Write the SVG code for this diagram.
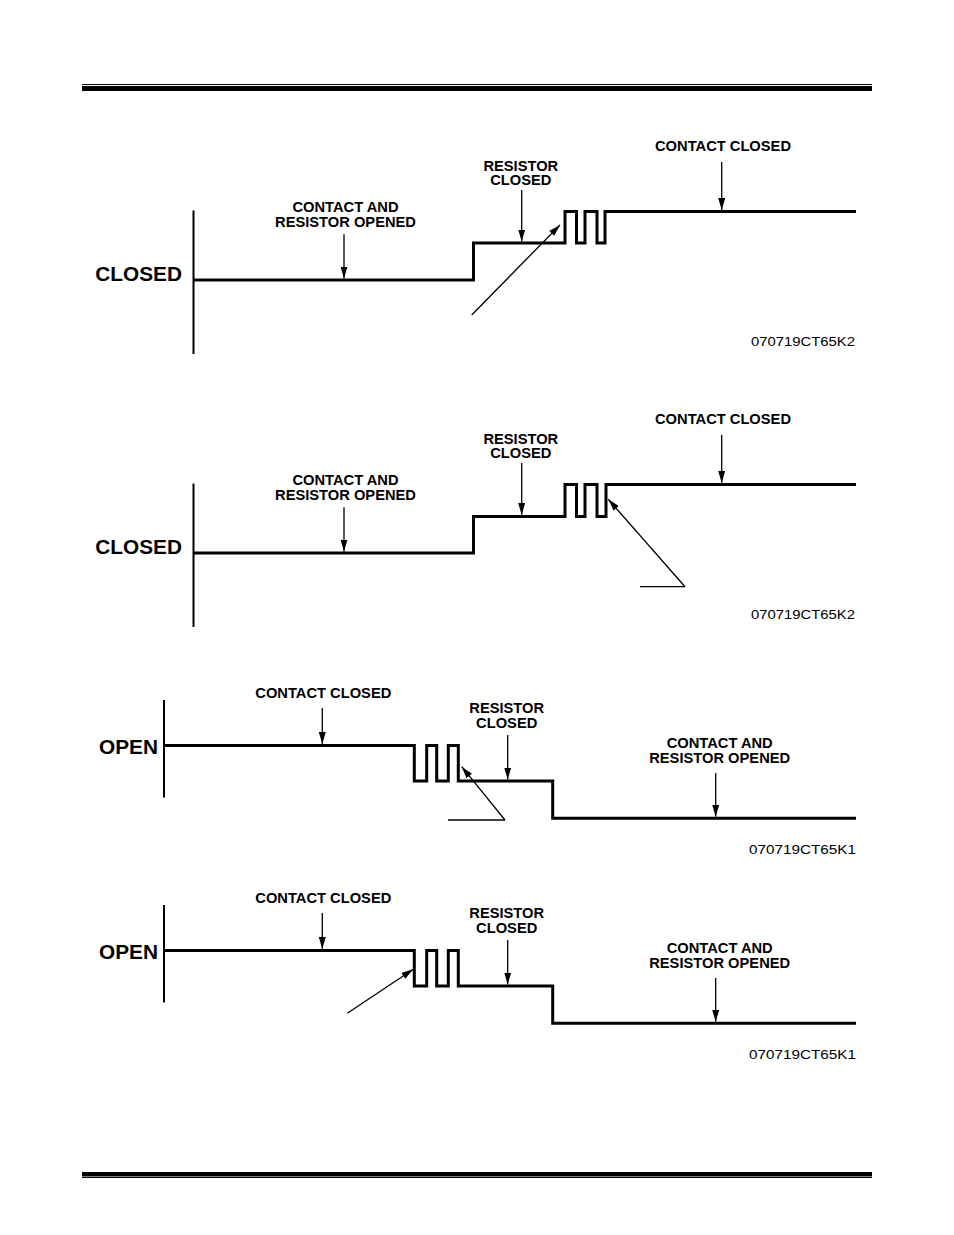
<svg xmlns="http://www.w3.org/2000/svg" width="954" height="1235" viewBox="0 0 954 1235">
<style>
.lbl{font-family:"Liberation Sans",Arial,sans-serif;font-weight:bold;font-size:14.7px;fill:#000;text-anchor:middle}
.big{font-family:"Liberation Sans",Arial,sans-serif;font-weight:bold;font-size:20.8px;fill:#000;text-anchor:end}
.code{font-family:"Liberation Sans",Arial,sans-serif;font-size:12px;fill:#000}
.sig{fill:none;stroke:#000;stroke-width:3;stroke-linejoin:miter;stroke-linecap:butt}
.axis{stroke:#000;stroke-width:2}
.arr{stroke:#000;stroke-width:1.3;fill:none}
.arrh{stroke:#000;stroke-width:1.3;fill:none;marker-end:url(#ah)}
</style>
<defs>
<marker id="ah" viewBox="0 0 12 7" refX="12" refY="3.5" markerWidth="12" markerHeight="7" markerUnits="userSpaceOnUse" orient="auto">
<path d="M0,0 L12,3.5 L0,7 z" fill="#000"/>
</marker>
</defs>
<rect width="954" height="1235" fill="#fff"/>
<g id="rules">
<rect x="82" y="84" width="790" height="1" fill="#000"/>
<rect x="82" y="86" width="790" height="5" fill="#000"/>
<rect x="82" y="1172" width="790" height="4.5" fill="#000"/>
<rect x="82" y="1177" width="790" height="1" fill="#000"/>
</g>
<g id="panel1">
<line class="axis" x1="193.5" y1="210.5" x2="193.5" y2="354"/>
<path class="sig" d="M193.5,280 H473.5 V243 H565 V211.5 H576.5 V243 H585 V211.5 H597 V243 H605 V211.5 H856"/>
<text class="big" x="182" y="280.5">CLOSED</text>
<text class="lbl" x="345.5" y="212.3">CONTACT AND</text>
<text class="lbl" x="345.5" y="227.3">RESISTOR OPENED</text>
<text class="lbl" x="520.8" y="170.7">RESISTOR</text>
<text class="lbl" x="520.8" y="185">CLOSED</text>
<text class="lbl" x="723" y="150.7">CONTACT CLOSED</text>
<text class="code" x="751" y="345.5" textLength="104" lengthAdjust="spacingAndGlyphs">070719CT65K2</text>
</g>
<g id="panel2">
<line class="axis" x1="193.5" y1="483.5" x2="193.5" y2="627"/>
<path class="sig" d="M193.5,553 H473.5 V516.5 H565 V484.5 H576.5 V516.5 H585 V484.5 H597 V516.5 H606 V484.5 H856"/>
<text class="big" x="182" y="553.5">CLOSED</text>
<text class="lbl" x="345.5" y="485.3">CONTACT AND</text>
<text class="lbl" x="345.5" y="500.3">RESISTOR OPENED</text>
<text class="lbl" x="520.8" y="443.7">RESISTOR</text>
<text class="lbl" x="520.8" y="458">CLOSED</text>
<text class="lbl" x="723" y="423.7">CONTACT CLOSED</text>
<text class="code" x="751" y="618.5" textLength="104" lengthAdjust="spacingAndGlyphs">070719CT65K2</text>
</g>
<g id="panel3">
<line class="axis" x1="164" y1="700" x2="164" y2="797.5"/>
<path class="sig" d="M164,745.5 H414.3 V781 H426.7 V745.5 H436.7 V781 H448.3 V745.5 H458.3 V781 H552.7 V818.3 H856"/>
<text class="big" x="158" y="754">OPEN</text>
<text class="lbl" x="323.3" y="698.3">CONTACT CLOSED</text>
<text class="lbl" x="506.7" y="713.3">RESISTOR</text>
<text class="lbl" x="506.7" y="728.3">CLOSED</text>
<text class="lbl" x="719.7" y="748.3">CONTACT AND</text>
<text class="lbl" x="719.7" y="763.3">RESISTOR OPENED</text>
<text class="code" x="749" y="854" textLength="107" lengthAdjust="spacingAndGlyphs">070719CT65K1</text>
</g>
<g id="panel4">
<line class="axis" x1="164" y1="905" x2="164" y2="1002.5"/>
<path class="sig" d="M164,950.5 H414.3 V986 H426.7 V950.5 H436.7 V986 H448.3 V950.5 H458.3 V986 H552.7 V1023.3 H856"/>
<text class="big" x="158" y="959">OPEN</text>
<text class="lbl" x="323.3" y="903.3">CONTACT CLOSED</text>
<text class="lbl" x="506.7" y="918.3">RESISTOR</text>
<text class="lbl" x="506.7" y="933.3">CLOSED</text>
<text class="lbl" x="719.7" y="953.3">CONTACT AND</text>
<text class="lbl" x="719.7" y="968.3">RESISTOR OPENED</text>
<text class="code" x="749" y="1059" textLength="107" lengthAdjust="spacingAndGlyphs">070719CT65K1</text>
</g>
<g id="connectors">
<line class="arrh" x1="344" y1="234.3" x2="344" y2="278.5"/>
<line class="arrh" x1="521.7" y1="190" x2="521.7" y2="241.5"/>
<line class="arrh" x1="721.7" y1="162" x2="721.7" y2="210"/>
<line class="arrh" x1="471.7" y1="315" x2="560" y2="225"/>
<line class="arrh" x1="344" y1="507.3" x2="344" y2="551.5"/>
<line class="arrh" x1="521.7" y1="463" x2="521.7" y2="515"/>
<line class="arrh" x1="721.7" y1="435" x2="721.7" y2="483"/>
<line class="arrh" x1="685" y1="586.7" x2="608.3" y2="499.3"/>
<line class="arr" x1="640" y1="586.7" x2="685" y2="586.7"/>
<line class="arrh" x1="322.3" y1="708" x2="322.3" y2="744"/>
<line class="arrh" x1="507.7" y1="735" x2="507.7" y2="779.5"/>
<line class="arrh" x1="715.7" y1="773" x2="715.7" y2="816.8"/>
<line class="arrh" x1="505" y1="820" x2="461.7" y2="766.7"/>
<line class="arr" x1="448" y1="820" x2="505" y2="820"/>
<line class="arrh" x1="322.3" y1="913" x2="322.3" y2="949"/>
<line class="arrh" x1="507.7" y1="940" x2="507.7" y2="984.5"/>
<line class="arrh" x1="715.7" y1="978" x2="715.7" y2="1021.8"/>
<line class="arrh" x1="347.3" y1="1013.3" x2="413.3" y2="969.3"/>
</g>
</svg>
